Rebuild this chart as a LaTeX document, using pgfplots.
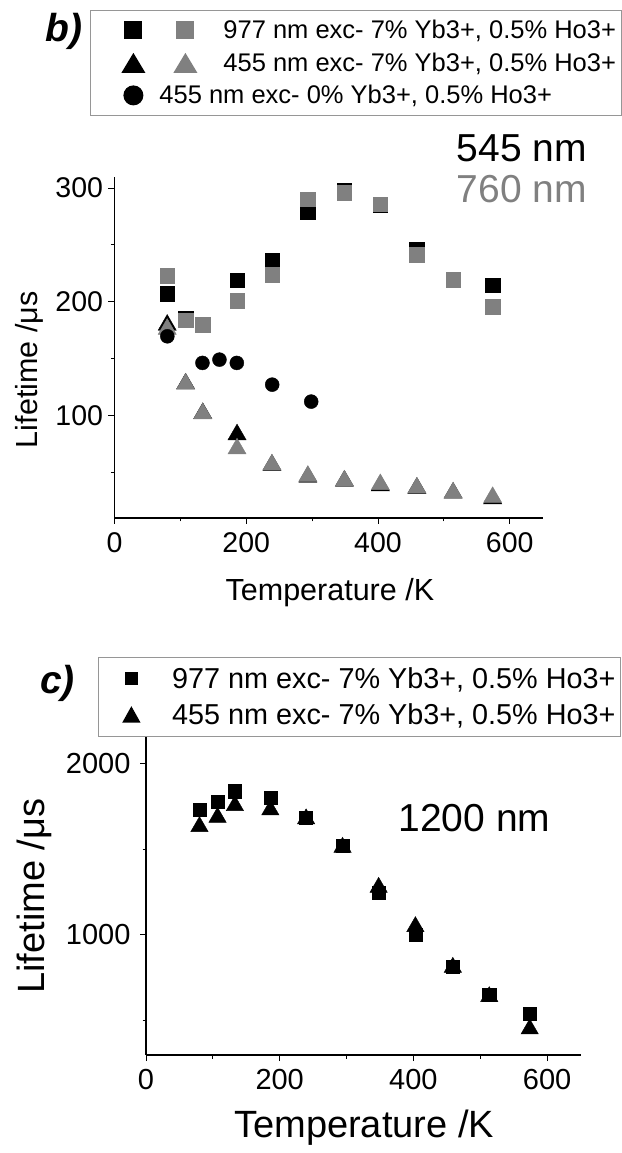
\documentclass[border=0pt]{standalone}
\usepackage{fontspec}
\setmainfont{Liberation Sans}
\usepackage{pgfplots}
\pgfplotsset{compat=1.18}
\definecolor{mygray}{RGB}{128,128,128}
\definecolor{boxgray}{RGB}{150,150,150}
\pgfplotsset{
  myaxis/.style={
    scale only axis,
    axis x line*=bottom, axis y line*=left,
    axis line style={line width=1.1pt, -},
    tick align=outside,
    major tick length=6pt, minor tick length=3.5pt,
    every tick/.style={black, line width=1pt},
    xmin=0, xmax=650,
    xtick={0,200,400,600}, minor xtick={100,300,500},
    /pgf/number format/assume math mode=true,
    /pgf/number format/1000 sep={},
    scaled ticks=false,
    clip=false,
    legend cell align=left,
    xticklabel style={yshift=-5pt},
  }
}
\begin{document}
\begin{tikzpicture}
\useasboundingbox (0,0) rectangle (621pt,1153pt);
% ---------------- panel b ----------------
\begin{axis}[myaxis,
  at={(114.5pt,635pt)}, anchor=south west,
  width=428.2pt, height=341.3pt,
  ymin=10, ymax=310,
  ytick={100,200,300}, minor ytick={50,150,250},
  tick label style={font=\fontsize{28.5}{34}\selectfont},
  yticklabel style={xshift=-2pt},
  label style={font=\fontsize{30.5}{36}\selectfont},
  xlabel={Temperature /K},
  ylabel={Lifetime /μs},
  xlabel style={at={(axis description cs:0.503,-0.22)}, anchor=center},
  ylabel style={at={(axis description cs:-0.199,0.434)}, anchor=center},
  legend style={at={(-0.0572,1.4884)}, anchor=north west,
    draw=boxgray, line width=0.8pt,
    font=\fontsize{25.5}{30}\selectfont,
    inner xsep=5pt, inner ysep=7pt,
    nodes={inner sep=0pt},
    column sep=13pt, row sep=6.5pt},
]
\addplot[only marks, mark=square*, mark size=7.2pt, color=black, forget plot] coordinates {
(80,207) (108,185) (134,180) (186,219) (239,236.5) (293.5,279) (349,298) (403.5,285) (459,246) (514,219) (574,214.5)};
\addplot[only marks, mark=square*, mark size=7.2pt, color=mygray, forget plot] coordinates {
(80,223) (108,183.6) (134,180) (186,201) (239,224) (293.5,290) (349,296) (403.5,286) (459,241.5) (514,219.5) (574,195.6)};
\addplot[only marks, mark=triangle*, mark size=10.5pt, color=black, forget plot] coordinates {
(80,179.6) (108,128) (134,102) (186,83.3) (239,56.5) (293.5,46) (349,42.5) (403.5,38.5) (459,36.3) (514,32) (574,27)};
\addplot[only marks, mark=triangle*, mark size=10.5pt, color=mygray, forget plot] coordinates {
(80,176) (108,127.8) (134,101.8) (186,70.9) (239,56.9) (293.5,46.8) (349,42.8) (403.5,39.5) (459,36.6) (514,32.3) (574,28.2)};
\addplot[only marks, mark=*, mark size=7pt, color=black, forget plot] coordinates {
(80.2,169.7) (133.5,146.3) (159.3,149.2) (185.7,146.3) (239.4,127.2) (298.6,112.3)};
\addlegendimage{legend image code/.code={
  \path[draw=none, fill=none] (0pt,-13pt) rectangle (115pt,13pt);
  \fill[black, draw=none] (29pt,-9pt) rectangle (47pt,9pt);
  \fill[mygray, draw=none] (81pt,-9pt) rectangle (99pt,9pt);
}}
\addlegendentry{977 nm exc- 7\% Yb3+, 0.5\% Ho3+}
\addlegendimage{legend image code/.code={
  \path[draw=none, fill=none] (0pt,-13pt) rectangle (115pt,13pt);
  \fill[black, draw=none] (26pt,-10pt) -- (50pt,-10pt) -- (38pt,10pt) -- cycle;
  \fill[mygray, draw=none] (78pt,-10pt) -- (102pt,-10pt) -- (90pt,10pt) -- cycle;
}}
\addlegendentry{455 nm exc- 7\% Yb3+, 0.5\% Ho3+}
\addlegendimage{legend image code/.code={
  \path[draw=none, fill=none] (0pt,-13pt) rectangle (115pt,13pt);
  \fill[black, draw=none] (38pt,0pt) circle (10pt);
}}
\addlegendentry{\hspace*{-64pt}455 nm exc- 0\% Yb3+, 0.5\% Ho3+}
\end{axis}
% ---------------- panel c ----------------
\begin{axis}[myaxis,
  at={(146pt,98pt)}, anchor=south west,
  width=434.5pt, height=317.5pt,
  ymin=300, ymax=2150,
  ytick={1000,2000}, minor ytick={500,1500},
  tick label style={font=\fontsize{29}{34}\selectfont},
  yticklabel style={xshift=-6pt},
  label style={font=\fontsize{38}{44}\selectfont},
  xlabel={Temperature /K},
  ylabel={Lifetime /μs},
  xlabel style={at={(axis description cs:0.502,-0.23)}, anchor=center},
  ylabel style={at={(axis description cs:-0.258,0.5)}, anchor=center},
  legend style={at={(-0.1105,1.2535)}, anchor=north west,
    draw=boxgray, line width=0.8pt,
    font=\fontsize{28.8}{34}\selectfont,
    inner xsep=5pt, inner ysep=7.3pt,
    nodes={inner sep=0pt},
    column sep=14pt, row sep=8pt},
]
\addplot[only marks, mark=square*, mark size=6.6pt, color=black, forget plot] coordinates {
(80,1728) (107,1778) (133,1837) (186,1800) (239.5,1685) (294,1519) (348,1246) (403,1002) (459,815) (513.5,652) (574,541)};
\addplot[only marks, mark=triangle*, mark size=10pt, color=black, forget plot] coordinates {
(80,1631) (107,1685) (133,1753) (186,1728) (239.5,1676) (294,1510) (348,1277) (403,1048) (459,811) (513.5,640) (574,452)};
\addlegendimage{legend image code/.code={
  \path[draw=none, fill=none] (0pt,-14pt) rectangle (54.7pt,14pt);
  \fill[black, draw=none] (21.3pt,-6.7pt) rectangle (34.7pt,6.7pt);
}}
\addlegendentry{977 nm exc- 7\% Yb3+, 0.5\% Ho3+}
\addlegendimage{legend image code/.code={
  \path[draw=none, fill=none] (0pt,-14pt) rectangle (54.7pt,14pt);
  \fill[black, draw=none] (18.8pt,-8pt) -- (37.2pt,-8pt) -- (28pt,8.5pt) -- cycle;
}}
\addlegendentry{455 nm exc- 7\% Yb3+, 0.5\% Ho3+}
\end{axis}
% ---------------- texts ----------------
\node[anchor=base west, inner sep=0pt, font=\fontsize{39}{46}\selectfont\bfseries\itshape] at (45pt,1111.3pt) {b)};
\node[anchor=base west, inner sep=0pt, font=\fontsize{39}{46}\selectfont\bfseries\itshape] at (40pt,459.7pt) {c)};
\node[anchor=base west, inner sep=0pt, font=\fontsize{39}{46}\selectfont] at (456.7pt,991pt) {545 nm};
\node[anchor=base west, inner sep=0pt, font=\fontsize{39}{46}\selectfont, text=mygray] at (456.7pt,950pt) {760 nm};
\node[anchor=base west, inner sep=0pt, font=\fontsize{39}{46}\selectfont] at (398.3pt,321.3pt) {1200 nm};
\end{tikzpicture}
\end{document}
